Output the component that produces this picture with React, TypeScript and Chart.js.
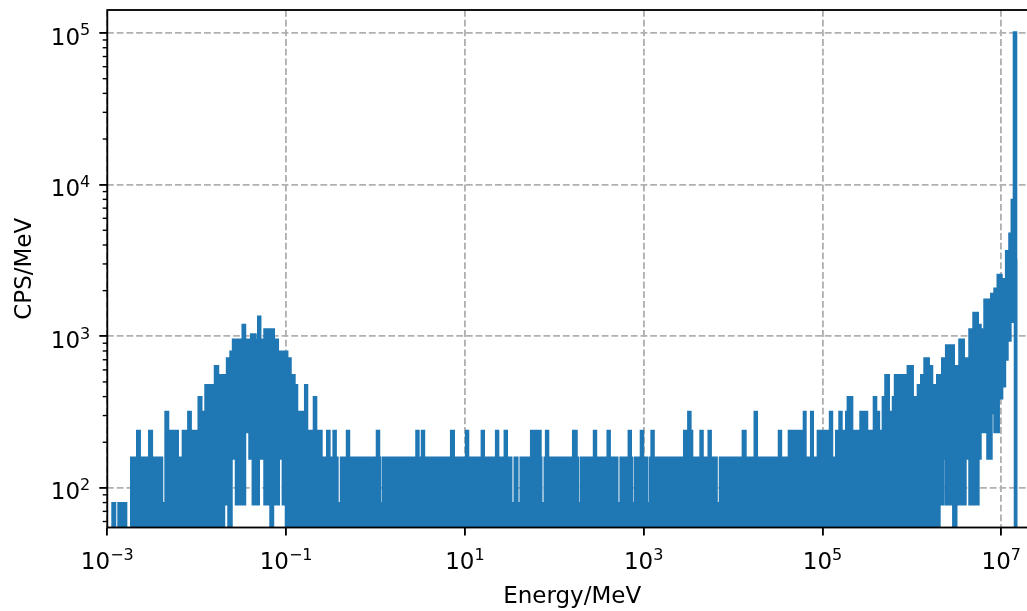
import { useEffect, useRef } from 'react';
import { Chart, registerables } from 'chart.js';

Chart.register(...registerables);

const LINE_COLOR = '#1f77b4';
// CPS/MeV corresponding to one recorded count in a bin
const COUNT_UNIT = 78.6;
// zero-count bins are drawn far below the axis (like matplotlib's log clipping)
const ZERO_DRAW_VALUE = 10;

// Upper envelope of the spectrum: [log10(Energy/MeV) where the step starts, counts]
const upperSteps: [number, number][] = [
  [-2.981, 0], [-2.936, 1], [-2.919, 0], [-2.869, 1], [-2.795, 0], [-2.727, 2], [-2.66, 3], [-2.643, 2],
  [-2.623, 1], [-2.589, 2], [-2.525, 3], [-2.507, 2], [-2.466, 1], [-2.428, 2], [-2.393, 1], [-2.343, 4],
  [-2.326, 3], [-2.217, 2], [-2.149, 3], [-2.088, 4], [-2.073, 3], [-1.972, 5], [-1.954, 4], [-1.896, 6],
  [-1.79, 8], [-1.767, 7], [-1.655, 9], [-1.616, 10], [-1.588, 12], [-1.48, 15], [-1.465, 12], [-1.385, 13],
  [-1.348, 12], [-1.306, 17], [-1.295, 12], [-1.262, 11], [-1.236, 14], [-1.143, 12], [-1.098, 10], [-0.993, 9],
  [-0.956, 7], [-0.912, 6], [-0.883, 4], [-0.781, 6], [-0.771, 3], [-0.683, 5], [-0.67, 3], [-0.61, 2],
  [-0.534, 3], [-0.521, 2], [-0.463, 3], [-0.451, 2], [-0.431, 1], [-0.38, 2], [-0.313, 3], [-0.302, 2],
  [0.022, 3], [0.034, 2], [0.045, 1], [0.089, 2], [0.464, 3], [0.475, 2], [0.526, 3], [0.537, 2],
  [0.852, 3], [0.87, 2], [1.019, 3], [1.03, 2], [1.195, 3], [1.206, 2], [1.355, 3], [1.366, 2],
  [1.398, 1], [1.432, 2], [1.452, 3], [1.463, 2], [1.513, 1], [1.563, 2], [1.581, 1], [1.63, 2],
  [1.747, 3], [1.84, 2], [1.849, 1], [1.899, 2], [1.914, 3], [1.925, 2], [2.217, 3], [2.243, 2],
  [2.257, 1], [2.302, 2], [2.45, 3], [2.461, 2], [2.603, 3], [2.614, 2], [2.699, 1], [2.748, 2],
  [2.839, 3], [2.85, 2], [2.861, 1], [2.906, 2], [2.975, 3], [2.987, 2], [3.035, 1], [3.079, 2],
  [3.094, 3], [3.105, 2], [3.459, 3], [3.505, 4], [3.517, 3], [3.536, 2], [3.642, 3], [3.653, 2],
  [3.733, 3], [3.744, 2], [3.81, 1], [3.859, 2], [4.115, 3], [4.133, 2], [4.248, 4], [4.26, 2],
  [4.519, 3], [4.53, 2], [4.63, 3], [4.664, 2], [4.698, 3], [4.798, 4], [4.804, 2], [4.879, 4],
  [4.886, 2], [4.954, 3], [5.09, 4], [5.101, 2], [5.159, 3], [5.196, 4], [5.207, 3], [5.271, 4],
  [5.289, 5], [5.326, 3], [5.431, 4], [5.493, 3], [5.581, 5], [5.594, 4], [5.626, 3], [5.681, 5],
  [5.71, 7], [5.736, 4], [5.794, 5], [5.817, 7], [5.96, 8], [6.004, 5], [6.073, 6], [6.11, 7],
  [6.147, 9], [6.183, 8], [6.22, 6], [6.289, 7], [6.345, 9], [6.389, 11], [6.418, 10], [6.445, 11],
  [6.463, 8], [6.538, 12], [6.575, 9], [6.65, 14], [6.669, 12], [6.695, 18], [6.732, 15], [6.762, 14],
  [6.818, 22], [6.855, 17], [6.893, 24], [6.93, 26], [6.966, 32], [6.997, 26], [7.022, 30], [7.06, 46],
  [7.097, 60], [7.123, 100], [7.147, 1272], [7.16, 0], [7.399, 0],
];

// Lower envelope of the spectrum: [log10(Energy/MeV) where the step starts, counts]
const lowerSteps: [number, number][] = [
  [-2.981, 0], [-1.7, 1], [-1.639, 0], [-1.616, 2], [-1.555, 1], [-1.465, 3], [-1.404, 2], [-1.367, 1],
  [-1.311, 2], [-1.236, 1], [-1.169, 0], [-1.152, 1], [-1.087, 2], [-1.031, 1], [-0.996, 0],
  [6.303, 1], [6.348, 2], [6.389, 1], [6.469, 0], [6.491, 1], [6.594, 2], [6.65, 1], [6.739, 2],
  [6.762, 3], [6.829, 4], [6.851, 2], [6.885, 4], [6.93, 3], [6.966, 5], [7.004, 6], [7.036, 9],
  [7.064, 12], [7.097, 16], [7.123, 40], [7.16, 0], [7.399, 0],
];

const xTickValues = [1e-3, 1e-1, 1e1, 1e3, 1e5, 1e7];
const xTickExponents = ['\u22123', '\u22121', '1', '3', '5', '7'];
const yTickValues = [1e2, 1e3, 1e4, 1e5];
const yTickExponents = ['2', '3', '4', '5'];
const yMinorTickValues = [
  60, 70, 80, 90,
  200, 300, 400, 500, 600, 700, 800, 900,
  2000, 3000, 4000, 5000, 6000, 7000, 8000, 9000,
  20000, 30000, 40000, 50000, 60000, 70000, 80000, 90000,
];

const X_MIN = 1e-3;
const X_MAX = 2.51e7;
const Y_MIN = 54.8;
const Y_MAX = 1.419e5;

const FAMILY = "'DejaVu Sans', sans-serif";
const FONT = { family: FAMILY, size: 23, lineHeight: 1.2 };
const BASE_FONT = `23px ${FAMILY}`;
const EXP_FONT = `16px ${FAMILY}`;

function toPoints(steps: [number, number][]) {
  return steps.map(([logE, c]) => ({
    x: Math.pow(10, logE),
    y: c > 0 ? c * COUNT_UNIT : ZERO_DRAW_VALUE,
  }));
}

function drawPower(ctx: CanvasRenderingContext2D, exp: string, x: number, baseline: number, align: 'center' | 'right') {
  ctx.font = BASE_FONT;
  const wb = ctx.measureText('10').width;
  ctx.font = EXP_FONT;
  const we = ctx.measureText(exp).width;
  const total = wb + we;
  const x0 = align === 'center' ? x - total / 2 : x - total;
  ctx.textAlign = 'left';
  ctx.textBaseline = 'alphabetic';
  ctx.font = BASE_FONT;
  ctx.fillText('10', x0, baseline);
  ctx.font = EXP_FONT;
  ctx.fillText(exp, x0 + wb, baseline - 9.3);
}

const framePlugin = {
  id: 'frame',
  afterDatasetsDraw(chart: any) {
    const { ctx, chartArea: a, scales } = chart;
    ctx.save();
    ctx.strokeStyle = '#000';
    ctx.lineWidth = 1.4;
    for (const v of yMinorTickValues) {
      const y = scales.y.getPixelForValue(v);
      ctx.beginPath();
      ctx.moveTo(a.left - 4.6, y);
      ctx.lineTo(a.left, y);
      ctx.stroke();
    }
    ctx.lineWidth = 1.84;
    ctx.strokeRect(a.left, a.top, a.right - a.left, a.bottom - a.top);
    ctx.fillStyle = '#000';
    xTickValues.forEach((v, i) => {
      drawPower(ctx, xTickExponents[i], scales.x.getPixelForValue(v), a.bottom + 41.8, 'center');
    });
    yTickValues.forEach((v, i) => {
      drawPower(ctx, yTickExponents[i], a.left - 17, scales.y.getPixelForValue(v) + 11.6, 'right');
    });
    ctx.restore();
  },
};

export default function App() {
  const ref = useRef<HTMLCanvasElement>(null);

  useEffect(() => {
    const canvas = ref.current;
    if (!canvas) return;
    const chart = new Chart(canvas, {
      type: 'line',
      data: {
        datasets: [
          {
            data: toPoints(upperSteps),
            borderColor: LINE_COLOR,
            backgroundColor: LINE_COLOR,
            borderWidth: 3.45,
            stepped: 'before',
            fill: '+1',
            pointRadius: 0,
            clip: 0,
          },
          {
            data: toPoints(lowerSteps),
            borderColor: LINE_COLOR,
            backgroundColor: LINE_COLOR,
            borderWidth: 3.45,
            stepped: 'before',
            fill: false,
            pointRadius: 0,
            clip: 0,
          },
        ],
      },
      options: {
        animation: false,
        responsive: false,
        devicePixelRatio: 1,
        events: [],
        layout: { padding: { left: 0, top: 10, right: 8, bottom: 0 } },
        plugins: { legend: { display: false }, tooltip: { enabled: false } },
        scales: {
          x: {
            type: 'logarithmic',
            min: X_MIN,
            max: X_MAX,
            afterFit: (s: any) => { s.height = 83.5; s.paddingLeft = 0; s.paddingRight = 0; s.paddingTop = 0; s.paddingBottom = 0; },
            afterBuildTicks: (s: any) => { s.ticks = xTickValues.map((value) => ({ value })); },
            ticks: { display: false, autoSkip: false, maxRotation: 0, minRotation: 0 },
            grid: { color: '#b0b0b0', lineWidth: 1.84, tickColor: '#000', tickLength: 8, tickWidth: 1.84 },
            border: { display: false, dash: [6.8, 2.9] },
            title: { display: true, text: 'Energy/MeV', color: '#000', font: FONT, padding: { top: 0, bottom: 0 } },
          },
          y: {
            type: 'logarithmic',
            position: 'left',
            min: Y_MIN,
            max: Y_MAX,
            afterFit: (s: any) => { s.width = 107.3; s.paddingLeft = 0; s.paddingRight = 0; s.paddingTop = 0; s.paddingBottom = 0; },
            afterBuildTicks: (s: any) => { s.ticks = yTickValues.map((value) => ({ value })); },
            ticks: { display: false, autoSkip: false },
            grid: { color: '#b0b0b0', lineWidth: 1.84, tickColor: '#000', tickLength: 8, tickWidth: 1.84 },
            border: { display: false, dash: [6.8, 2.9] },
            title: { display: true, text: 'CPS/MeV', color: '#000', font: FONT, padding: { top: 11.5, bottom: 0 } },
          },
        },
      },
      plugins: [framePlugin],
    } as any);
    return () => chart.destroy();
  }, []);

  return (
    <div style={{ position: 'fixed', left: 0, top: 0, width: 1027, height: 611, overflow: 'hidden', background: '#fff' }}>
      <canvas ref={ref} width={1045} height={611} style={{ display: 'block', width: 1045, height: 611 }} />
    </div>
  );
}
